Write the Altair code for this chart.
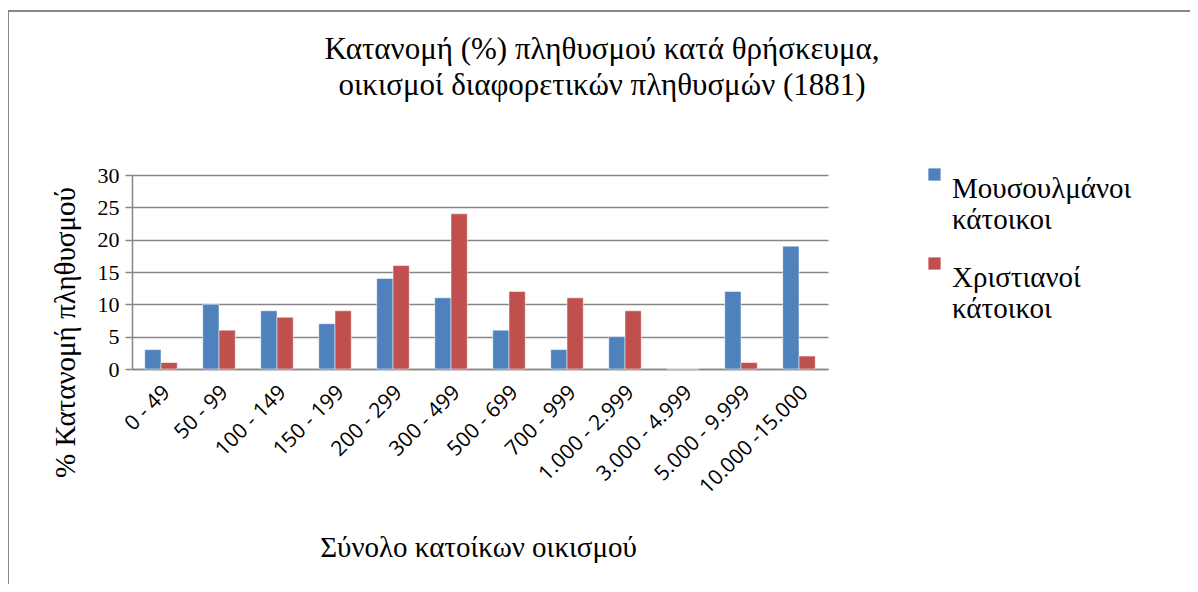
import altair as alt
import pandas as pd

categories = ["0 - 49", "50 - 99", "100 - 149", "150 - 199", "200 - 299", "300 - 499",
              "500 - 699", "700 - 999", "1.000 - 2.999", "3.000 - 4.999", "5.000 - 9.999",
              "10.000 -15.000"]
muslims = [3, 10, 9, 7, 14, 11, 6, 3, 5, 0, 12, 19]
christians = [1, 6, 8, 9, 16, 24, 12, 11, 9, 0, 1, 2]
series = ["Μουσουλμάνοι κάτοικοι", "Χριστιανοί κάτοικοι"]
colors = ["#4F81BD", "#C0504D"]

rows = []
for c, m, ch in zip(categories, muslims, christians):
    rows.append({"cat": c, "series": series[0], "value": m})
    rows.append({"cat": c, "series": series[1], "value": ch})
df = pd.DataFrame(rows)

serif = "Liberation Serif"
sans = "Open Sans"

bars = alt.Chart(df).mark_bar(stroke="white", strokeWidth=0.5).encode(
    x=alt.X("cat:N", sort=categories,
            scale=alt.Scale(paddingInner=0.44, paddingOuter=0.22),
            axis=alt.Axis(title="Σύνολο κατοίκων οικισμού", labelAngle=-45,
                          labelAlign="right", labelBaseline="middle",
                          labelFont=sans, labelFontSize=21, labelColor="black",
                          labelPadding=20, labelOffset=6, labelOverlap=False,
                          titleFont=serif, titleFontSize=29, titleFontWeight="normal",
                          titleColor="black", titleX=346, titleY=178,
                          titleBaseline="middle",
                          ticks=False, domainColor="#868686", domainWidth=1.5)),
    xOffset=alt.XOffset("series:N", sort=series),
    y=alt.Y("value:Q", scale=alt.Scale(domain=[0, 30]),
            axis=alt.Axis(title="% Κατανομή πληθυσμού", values=[0, 5, 10, 15, 20, 25, 30],
                          labelFont=serif, labelFontSize=22, labelColor="black",
                          labelPadding=6,
                          titleFont=serif, titleFontSize=29, titleFontWeight="normal",
                          titleColor="black", titleX=-67, titleY=157,
                          titleAngle=270, titleAlign="center", titleBaseline="middle",
                          gridColor="#868686", gridWidth=1.5,
                          tickColor="#868686", tickWidth=1.5, tickSize=7,
                          domainColor="#868686", domainWidth=1.5)),
    color=alt.Color("series:N", sort=series,
                    scale=alt.Scale(domain=series, range=colors),
                    legend=alt.Legend(title=None, orient="none", legendX=788, legendY=-15,
                                      symbolType="square", symbolSize=150,
                                      symbolStrokeWidth=0,
                                      labelFont=serif, labelFontSize=29,
                                      labelColor="black", labelLimit=300,
                                      labelExpr="split(datum.label, ' ')",
                                      labelBaseline="top", labelOffset=3,
                                      rowPadding=14)),
)

frame = alt.Chart(pd.DataFrame({"f": [0]})).mark_rect(
    fill=None, stroke="#888888", strokeWidth=2
).encode(
    x=alt.value(-124), x2=alt.value(1070), y=alt.value(-164), y2=alt.value(430)
)

chart = alt.layer(frame, bars).properties(
    width=696, height=194,
    title=alt.Title(["Κατανομή (%) πληθυσμού κατά θρήσκευμα,",
                     "οικισμοί διαφορετικών πληθυσμών (1881)"],
                    font=serif, fontSize=31, fontWeight="normal", color="black",
                    anchor="middle", dx=122, offset=-92, lineHeight=36),
    padding={"left": 124, "top": 167, "right": 362, "bottom": 215},
    autosize=alt.AutoSizeParams(type="none"),
).configure_view(stroke=None)

chart.save("out.html", embed_options={"renderer": "svg", "actions": False})
